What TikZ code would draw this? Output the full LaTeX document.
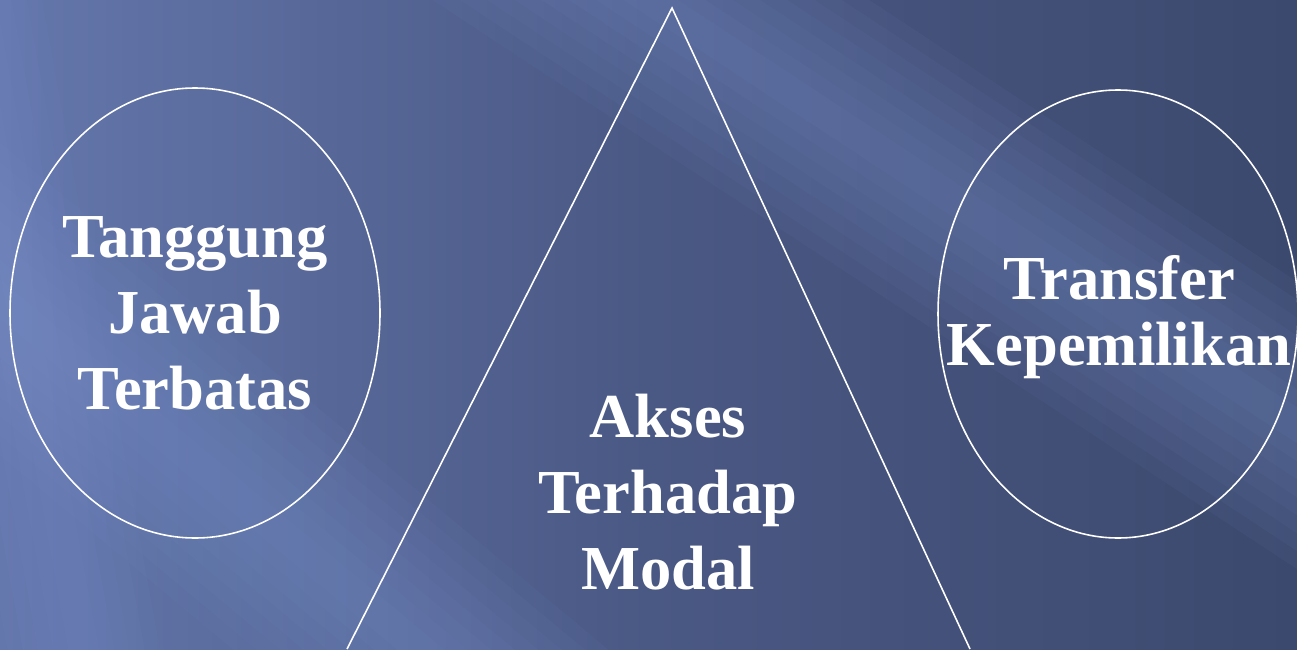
\documentclass[tikz,border=0pt]{standalone}
\usepackage{fontspec}
\setmainfont{Liberation Serif}
\usetikzlibrary{shapes.geometric,positioning}
\definecolor{slateLight}{RGB}{100,119,172}
\definecolor{slateMid}{RGB}{74,88,132}
\definecolor{slateDark}{RGB}{60,73,110}
\definecolor{streakBlue}{RGB}{128,152,212}

\begin{document}
\begin{tikzpicture}[
  bubble/.style={ellipse, draw=white, line width=0.45pt, inner sep=0pt},
  txt/.style={text=white, font=\fontsize{17.8}{21.6}\selectfont\bfseries,
              align=center},
  streak/.style={streakBlue, line width=#1, opacity=0.055}
]
  \useasboundingbox (0,0) rectangle (12.97,6.49);
  \clip (0,0) rectangle (12.97,6.49);
  % background
  \shade[left color=slateLight, right color=slateDark, middle color=slateMid]
    (0,0) rectangle (12.97,6.49);
  \foreach \w in {0.3,0.6,...,2.7}{
    \draw[streak=\w cm] (3.0,8.8) -- (15.0,0.9);
    \draw[streak=\w cm] (-3.0,6.0) -- (6.0,-1.5);
  }
  \foreach \w in {0.3,0.6,...,1.8}{
    \draw[streak=\w cm] (-0.8,9.0) -- (1.2,-2.0);
  }

  % shapes
  \node[bubble, minimum width=3.70cm, minimum height=4.50cm]
    (tanggung) at (1.95,3.36) {};
  \node[txt] (tanggungText) at (tanggung) {Tanggung\\Jawab\\Terbatas};
  \node[bubble, minimum width=3.60cm, minimum height=4.48cm]
    (transfer) at (11.18,3.35) {};
  \node[txt, font=\fontsize{17.8}{18.6}\selectfont\bfseries]
    (transferText) at (11.19,3.32) {Transfer\\Kepemilikan};
  \coordinate (apex)  at (6.72,6.41);
  \coordinate (baseL) at (3.47,0);
  \coordinate (baseR) at (9.70,0);
  \draw[white, line width=0.45pt] (baseL) -- (apex) -- (baseR);
  \node[txt] (akses) at (6.68,1.57) {Akses\\Terhadap\\Modal};
\end{tikzpicture}
\end{document}
